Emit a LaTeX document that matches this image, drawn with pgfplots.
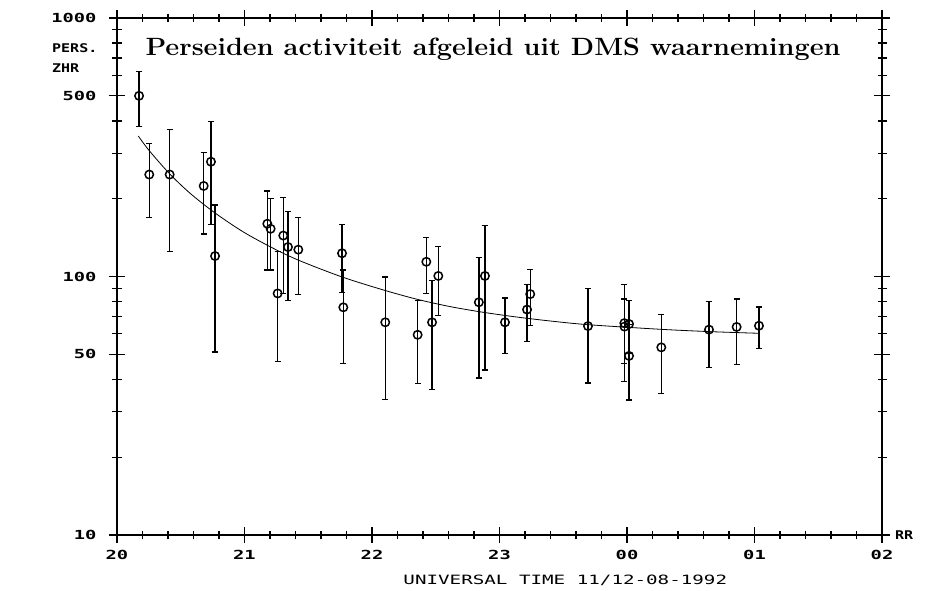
\documentclass[border=0pt]{standalone}
\usepackage{fontspec}
\usepackage{graphicx}
\usepackage{pgfplots}
\usepackage{pgfplotstable}
\pgfplotsset{compat=1.18}
\newfontfamily\tickfont[FakeStretch=1.5]{DejaVu Sans Mono}
\newfontfamily\labfont[FakeStretch=1.25]{DejaVu Sans Mono}

% ZHR per DMS waarneming: x = UT (uur, na middernacht +24), y = ZHR, e = fout
\pgfplotstableread{
x       y      e
20.173  500    120
20.253  248    79
20.413  248    123
20.680  224    78
20.737  278    119
20.769  120    69
21.179  160    54
21.205  153    47
21.260  86     39
21.304  144    58
21.341  130    49
21.422  127    42
21.765  123    36
21.775  76     30
22.104  66.5   33
22.358  59.5   21
22.426  114    28
22.471  66.5   30
22.520  100.5  30
22.838  79.5   39
22.886  100.5  57
23.043  66.5   16
23.216  74.5   18.5
23.241  85.5   21
23.694  64.3   25.6
23.979  66     26.8
23.980  64     17.8
24.016  65.5   15
24.016  49.3   16
24.269  53.2   17.9
24.643  62.3   17.9
24.860  63.8   18
25.035  64.5   11.7
}\zhrdata

\begin{document}
\begin{tikzpicture}
\useasboundingbox (-117pt,-55pt) rectangle (809pt,535pt);
\begin{axis}[
  scale only axis,
  width=765pt, height=517pt,
  ymode=log,
  xmin=20, xmax=26, ymin=10, ymax=1000,
  axis line style={line width=1.4pt},
  xtick={20,21,22,23,24,25,26},
  xticklabels={20,21,22,23,00,01,02},
  minor x tick num=4,
  ytick={10,50,100,500,1000},
  yticklabels={10,50,100,500,1000},
  minor ytick={20,30,40,60,70,80,90,200,300,400,600,700,800,900},
  tick align=center,
  major tick length=16pt,
  minor tick length=9pt,
  every tick/.style={black, line width=1.3pt},
  ticklabel style={font=\tickfont\bfseries\fontsize{12.5}{14}\selectfont},
  yticklabel style={xshift=-9pt},
  xticklabel style={yshift=-4pt},
  clip=false,
]
\addplot[black, line width=0.8pt, smooth] coordinates {
  (20.167,349.6) (20.253,306.7) (20.413,249.6) (20.573,209.9)
  (20.769,176.1) (20.991,148.7) (21.226,128.5) (21.435,115.0)
  (21.765,99.6) (22.089,88.7) (22.351,81.7) (22.612,76.5)
  (22.873,72.7) (23.135,69.7) (23.396,67.3) (23.696,65.1)
  (24.259,62.5) (24.651,61.2) (25.035,60.3)
};
\addplot[black, only marks, mark=o, mark size=4.2pt,
  mark options={line width=1.5pt},
  error bars/.cd, y dir=both, y explicit,
  error bar style={line width=1.4pt},
  error mark options={rotate=90, line width=1.2pt, mark size=3pt}]
  table[x=x, y=y, y error=e] {\zhrdata};

\node[anchor=center] at (axis description cs:0.4915,0.94)
  {\fontsize{25}{28}\selectfont\scalebox{1.08}[1]{\bfseries Perseiden activiteit afgeleid uit DMS waarnemingen}};
\node[anchor=west, inner sep=0pt] at (axis description cs:-0.085,0.942)
  {\labfont\bfseries\fontsize{12}{13}\selectfont PERS.};
\node[anchor=west, inner sep=0pt] at (axis description cs:-0.085,0.903)
  {\labfont\bfseries\fontsize{12}{13}\selectfont ZHR};
\node[anchor=west, inner sep=0pt] at (axis description cs:1.017,0)
  {\labfont\bfseries\fontsize{12}{13}\selectfont RR};
\node[anchor=center, inner sep=0pt] at (axis description cs:0.586,-0.087)
  {\tickfont\fontsize{12.8}{14}\selectfont UNIVERSAL TIME 11/12-08-1992};
\end{axis}
\end{tikzpicture}
\end{document}
